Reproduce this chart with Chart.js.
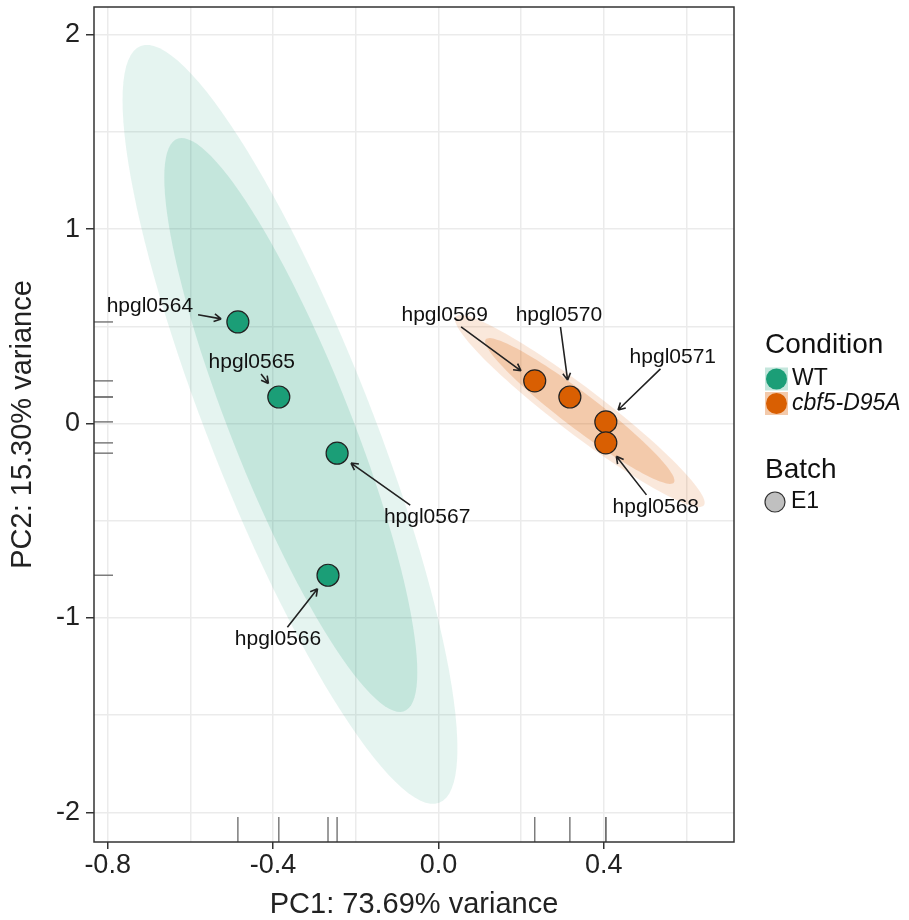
<!DOCTYPE html>
<html>
<head>
<meta charset="utf-8">
<script src="https://cdn.jsdelivr.net/npm/chart.js@4.4.0/dist/chart.umd.min.js"></script>
<style>
  body { margin: 0; background: #fff; }
  #wrap { width: 909px; height: 920px; position: relative; }
</style>
</head>
<body>
<div id="wrap"><canvas id="pca"></canvas></div>
<script>
// PCA scores per sample
const sampleNames = ['hpgl0564', 'hpgl0565', 'hpgl0567', 'hpgl0566', 'hpgl0569', 'hpgl0570', 'hpgl0571', 'hpgl0568'];
const conditions  = ['WT', 'WT', 'WT', 'WT', 'cbf5-D95A', 'cbf5-D95A', 'cbf5-D95A', 'cbf5-D95A'];
const pc1 = [-0.485, -0.386, -0.245, -0.267, 0.233, 0.318, 0.405, 0.405];
const pc2 = [0.523, 0.137, -0.152, -0.780, 0.220, 0.137, 0.009, -0.099];

const conditionNames  = ['WT', 'cbf5-D95A'];
const conditionColors = ['#1b9e77', '#d95f02'];
const batchNames = ['E1'];

// confidence ellipses (outer / inner level per condition), data units
const ellipseCondition = ['WT', 'WT', 'cbf5-D95A', 'cbf5-D95A'];
const ellipseCx  = [-0.359, -0.357, 0.342, 0.342];
const ellipseCy  = [-0.004, -0.007, 0.065, 0.065];
const ellipseRx  = [0.405, 0.306, 0.302, 0.229];
const ellipseRy  = [1.952, 1.476, 0.494, 0.375];
const ellipseRho = [-0.854, -0.862, -0.955, -0.955];

const xTicks = [-0.8, -0.6, -0.4, -0.2, 0, 0.2, 0.4, 0.6];
const xMajor = [-0.8, -0.4, 0, 0.4];
const yTicks = [-2, -1.5, -1, -0.5, 0, 0.5, 1, 1.5, 2];
const yMajor = [-2, -1, 0, 1, 2];

// where each label sits relative to its point (px), like ggrepel placed them
const labelOffsetPx = [[-88, -16], [-27, -35], [90, 64], [-50, 64], [-90, -66], [-11, -82], [67, -65], [50, 64]];

const FONT = "'Liberation Sans', Arial, Helvetica, sans-serif";
const ellipseAlpha = { 'WT': [0.115, 0.16], 'cbf5-D95A': [0.14, 0.22] };

function hexRgb(h) {
  const n = parseInt(h.slice(1), 16);
  return [(n >> 16) & 255, (n >> 8) & 255, n & 255];
}
function rgba(hex, a) {
  const c = hexRgb(hex);
  return 'rgba(' + c[0] + ',' + c[1] + ',' + c[2] + ',' + a + ')';
}
const isIn = (arr, v) => arr.some(m => Math.abs(m - v) < 1e-9);

const datasets = conditionNames.map((cond, k) => ({
  label: cond,
  data: pc1.map((x, i) => ({ x: x, y: pc2[i] })).filter((p, i) => conditions[i] === cond),
  backgroundColor: conditionColors[k],
  borderColor: '#222',
  borderWidth: 1.2,
  pointRadius: 11,
  pointHoverRadius: 11
}));

const ellipsePlugin = {
  id: 'ellipses',
  beforeDatasetsDraw(chart) {
    const { ctx, chartArea: a, scales: { x, y } } = chart;
    ctx.save();
    ctx.beginPath();
    ctx.rect(a.left, a.top, a.right - a.left, a.bottom - a.top);
    ctx.clip();
    ellipseCondition.forEach((cond, e) => {
      const k = conditionNames.indexOf(cond);
      const s = Math.sqrt(1 - ellipseRho[e] * ellipseRho[e]);
      ctx.beginPath();
      for (let j = 0; j <= 120; j++) {
        const t = j / 120 * Math.PI * 2;
        const vx = ellipseCx[e] + ellipseRx[e] * Math.cos(t);
        const vy = ellipseCy[e] + ellipseRy[e] * (ellipseRho[e] * Math.cos(t) + s * Math.sin(t));
        const px = x.getPixelForValue(vx), py = y.getPixelForValue(vy);
        if (j === 0) ctx.moveTo(px, py); else ctx.lineTo(px, py);
      }
      ctx.closePath();
      ctx.fillStyle = rgba(conditionColors[k], ellipseAlpha[cond][e % 2]);
      ctx.fill();
    });
    // rugs
    ctx.strokeStyle = 'rgba(110,110,110,0.9)';
    ctx.lineWidth = 1.5;
    pc1.forEach((v, i) => {
      const px = x.getPixelForValue(v);
      ctx.beginPath();
      ctx.moveTo(px, a.bottom);
      ctx.lineTo(px, a.bottom - 25);
      ctx.stroke();
      const py = y.getPixelForValue(pc2[i]);
      ctx.beginPath();
      ctx.moveTo(a.left, py);
      ctx.lineTo(a.left + 19, py);
      ctx.stroke();
    });
    ctx.restore();
  }
};

const labelPlugin = {
  id: 'labels',
  afterDatasetsDraw(chart) {
    const { ctx, scales: { x, y } } = chart;
    ctx.save();
    ctx.font = '21px ' + FONT;
    ctx.textAlign = 'center';
    ctx.textBaseline = 'middle';
    sampleNames.forEach((name, i) => {
      const px = x.getPixelForValue(pc1[i]), py = y.getPixelForValue(pc2[i]);
      const lx = px + labelOffsetPx[i][0], ly = py + labelOffsetPx[i][1];
      ctx.fillStyle = '#111';
      ctx.fillText(name, lx, ly);
      // segment from label box edge toward point
      const hw = ctx.measureText(name).width / 2 + 5, hh = 12;
      const dx = px - lx, dy = py - ly;
      const t = Math.min(hw / Math.abs(dx || 1e-6), hh / Math.abs(dy || 1e-6));
      const sx = lx + dx * t, sy = ly + dy * t;
      const len = Math.hypot(px - sx, py - sy);
      const ux = (px - sx) / len, uy = (py - sy) / len;
      const ex = px - ux * 17, ey = py - uy * 17;
      ctx.strokeStyle = '#222';
      ctx.lineWidth = 1.6;
      ctx.beginPath();
      ctx.moveTo(sx, sy);
      ctx.lineTo(ex, ey);
      const ang = Math.atan2(uy, ux);
      [0.5, -0.5].forEach(d => {
        ctx.moveTo(ex, ey);
        ctx.lineTo(ex - 8 * Math.cos(ang + d), ey - 8 * Math.sin(ang + d));
      });
      ctx.stroke();
    });
    ctx.restore();
  },
  afterDraw(chart) {
    const { ctx, chartArea: a } = chart;
    ctx.save();
    ctx.strokeStyle = '#333';
    ctx.lineWidth = 1.5;
    ctx.strokeRect(a.left, a.top, a.right - a.left, a.bottom - a.top);

    // legend
    ctx.textAlign = 'left';
    ctx.textBaseline = 'middle';
    ctx.fillStyle = '#111';
    ctx.font = '28px ' + FONT;
    ctx.fillText('Condition', 765, 345);
    conditionNames.forEach((cond, k) => {
      const cy = 379 + k * 24.5;
      ctx.fillStyle = rgba(conditionColors[k], ellipseAlpha[cond][0]);
      ctx.fillRect(765, cy - 11.5, 23, 23);
      ctx.fillStyle = rgba(conditionColors[k], ellipseAlpha[cond][1]);
      ctx.fillRect(765, cy - 11.5, 23, 23);
      ctx.fillStyle = conditionColors[k];
      ctx.beginPath();
      ctx.arc(776.5, cy, 10.5, 0, Math.PI * 2);
      ctx.fill();
      ctx.fillStyle = '#111';
      ctx.font = (k === 1 ? 'italic ' : '') + '23px ' + FONT;
      ctx.fillText(cond, 792, cy);
    });
    ctx.font = '28px ' + FONT;
    ctx.fillText('Batch', 765, 470);
    batchNames.forEach((b, k) => {
      const cy = 502 + k * 24.5;
      ctx.fillStyle = '#c0c0c0';
      ctx.strokeStyle = '#333';
      ctx.lineWidth = 1.2;
      ctx.beginPath();
      ctx.arc(775, cy, 10, 0, Math.PI * 2);
      ctx.fill();
      ctx.stroke();
      ctx.fillStyle = '#111';
      ctx.font = '23px ' + FONT;
      ctx.fillText(b, 791, cy);
    });
    ctx.restore();
  }
};

const gridColor = '#ebebeb';

new Chart(document.getElementById('pca'), {
  type: 'scatter',
  data: { datasets: datasets },
  plugins: [ellipsePlugin, labelPlugin],
  options: {
    responsive: true,
    maintainAspectRatio: false,
    animation: false,
    layout: { autoPadding: false, padding: { left: 0, top: 7, right: 175, bottom: 0 } },
    plugins: { legend: { display: false }, tooltip: { enabled: false } },
    scales: {
      x: {
        type: 'linear',
        min: -0.833,
        max: 0.715,
        afterBuildTicks: (scale) => { scale.ticks = xTicks.map(v => ({ value: v })); },
        afterFit: (scale) => { scale.height = 78; scale.paddingLeft = 0; scale.paddingRight = 0; },
        ticks: {
          autoSkip: false,
          maxRotation: 0,
          padding: 0,
          color: '#222',
          font: { family: FONT, size: 27 },
          callback: (v) => isIn(xMajor, v) ? Number(v).toFixed(1) : ''
        },
        grid: {
          color: gridColor,
          lineWidth: 1.5,
          tickLength: 7,
          tickWidth: 1.5,
          tickColor: (c) => c.tick && isIn(xMajor, c.tick.value) ? '#333' : 'rgba(0,0,0,0)'
        },
        border: { display: false },
        title: {
          display: true,
          text: 'PC1: 73.69% variance',
          color: '#222',
          font: { family: FONT, size: 29, lineHeight: 1 },
          padding: { top: 0, bottom: 1 }
        }
      },
      y: {
        type: 'linear',
        min: -2.152,
        max: 2.143,
        afterBuildTicks: (scale) => { scale.ticks = yTicks.map(v => ({ value: v })); },
        afterFit: (scale) => { scale.width = 94; scale.paddingTop = 0; scale.paddingBottom = 0; },
        ticks: {
          autoSkip: false,
          padding: 6,
          color: '#222',
          font: { family: FONT, size: 27 },
          callback: (v) => isIn(yMajor, v) ? String(Math.round(v)) : ''
        },
        grid: {
          color: gridColor,
          lineWidth: 1.5,
          tickLength: 8,
          tickWidth: 1.5,
          tickColor: (c) => c.tick && isIn(yMajor, c.tick.value) ? '#333' : 'rgba(0,0,0,0)'
        },
        border: { display: false },
        title: {
          display: true,
          text: 'PC2: 15.30% variance',
          color: '#222',
          font: { family: FONT, size: 29, lineHeight: 1 },
          padding: { top: 8, bottom: 0 }
        }
      }
    }
  }
});
</script>
</body>
</html>
